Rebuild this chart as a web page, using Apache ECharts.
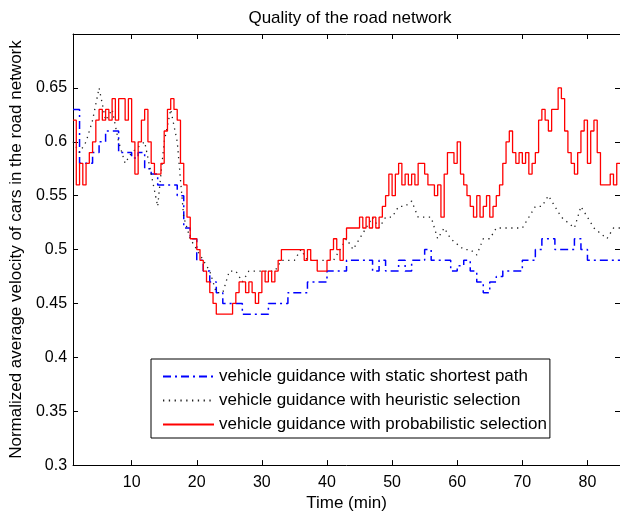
<!DOCTYPE html>
<html>
<head>
<meta charset="utf-8">
<script src="https://cdn.jsdelivr.net/npm/echarts@6/dist/echarts.min.js"></script>
<style>
  html, body { margin: 0; padding: 0; background: #fff; }
  #chart { width: 620px; height: 517px; }
</style>
</head>
<body>
<div id="chart"></div>
<script>
// tick labels
const xTicks = [10, 20, 30, 40, 50, 60, 70, 80];
const yTicks = [0.3, 0.35, 0.4, 0.45, 0.5, 0.55, 0.6, 0.65];

const seriesNames = [
  "vehicle guidance with static shortest path",
  "vehicle guidance with heuristic selection",
  "vehicle guidance with probabilistic selection",
];

// static shortest path, one value per minute (1..85)
const staticValues = [
  0.63, 0.58, 0.58, 0.59, 0.60, 0.61, 0.61, 0.59, 0.59, 0.585,
  0.59, 0.575, 0.57, 0.56, 0.56, 0.56, 0.55, 0.52, 0.51, 0.49,
  0.48, 0.47, 0.46, 0.45, 0.45, 0.45, 0.44, 0.44, 0.44, 0.44,
  0.45, 0.45, 0.45, 0.46, 0.46, 0.46, 0.47, 0.47, 0.47, 0.48,
  0.48, 0.48, 0.49, 0.49, 0.49, 0.49, 0.48, 0.49, 0.48, 0.48,
  0.49, 0.48, 0.49, 0.49, 0.50, 0.49, 0.49, 0.49, 0.48, 0.485,
  0.49, 0.48, 0.47, 0.46, 0.47, 0.475, 0.48, 0.48, 0.48, 0.49,
  0.49, 0.50, 0.51, 0.51, 0.50, 0.50, 0.50, 0.51, 0.50, 0.49,
  0.49, 0.49, 0.49, 0.49, 0.49,
];

// heuristic selection, one value per minute (1..85)
const heuristicValues = [
  0.60, 0.59, 0.60, 0.62, 0.65, 0.62, 0.63, 0.60, 0.58, 0.59,
  0.595, 0.60, 0.57, 0.54, 0.60, 0.63, 0.60, 0.53, 0.51, 0.50,
  0.49, 0.48, 0.46, 0.46, 0.48, 0.48, 0.47, 0.48, 0.48, 0.48,
  0.48, 0.48, 0.49, 0.49, 0.49, 0.50, 0.49, 0.49, 0.49, 0.49,
  0.49, 0.50, 0.51, 0.50, 0.51, 0.52, 0.53, 0.52, 0.53, 0.53,
  0.54, 0.54, 0.545, 0.53, 0.53, 0.53, 0.51, 0.52, 0.51, 0.505,
  0.50, 0.50, 0.495, 0.51, 0.51, 0.52, 0.52, 0.52, 0.52, 0.52,
  0.53, 0.54, 0.54, 0.55, 0.54, 0.53, 0.525, 0.52, 0.54, 0.53,
  0.52, 0.515, 0.51, 0.52, 0.52,
];

// probabilistic selection, one value per half minute (1..85)
const probValues = [
  0.62, 0.56, 0.58, 0.56, 0.58, 0.59, 0.60, 0.62, 0.63, 0.62,
  0.63, 0.62, 0.64, 0.62, 0.64, 0.64, 0.62, 0.64, 0.60, 0.57,
  0.60, 0.62, 0.63, 0.60, 0.58, 0.57, 0.57, 0.58, 0.61, 0.63,
  0.64, 0.63, 0.62, 0.58, 0.56, 0.53, 0.51, 0.51, 0.50, 0.49,
  0.48, 0.47, 0.46, 0.45, 0.44, 0.44, 0.44, 0.44, 0.44, 0.45,
  0.46, 0.47, 0.47, 0.46, 0.47, 0.46, 0.45, 0.46, 0.48, 0.47,
  0.48, 0.47, 0.48, 0.49, 0.50, 0.50, 0.50, 0.50, 0.50, 0.50,
  0.50, 0.49, 0.50, 0.49, 0.49, 0.48, 0.48, 0.48, 0.49, 0.50,
  0.51, 0.50, 0.49, 0.51, 0.52, 0.52, 0.52, 0.52, 0.53, 0.52,
  0.53, 0.52, 0.53, 0.52, 0.53, 0.54, 0.55, 0.57, 0.55, 0.57,
  0.58, 0.56, 0.57, 0.56, 0.57, 0.56, 0.58, 0.58, 0.57, 0.56,
  0.56, 0.55, 0.56, 0.53, 0.57, 0.59, 0.59, 0.58, 0.60, 0.57,
  0.56, 0.55, 0.54, 0.53, 0.55, 0.53, 0.54, 0.55, 0.53, 0.54,
  0.55, 0.56, 0.58, 0.60, 0.61, 0.59, 0.58, 0.59, 0.58, 0.59,
  0.57, 0.58, 0.59, 0.62, 0.63, 0.62, 0.61, 0.63, 0.63, 0.65,
  0.64, 0.61, 0.59, 0.58, 0.57, 0.59, 0.61, 0.62, 0.58, 0.61,
  0.62, 0.59, 0.56, 0.56, 0.56, 0.57, 0.56, 0.58, 0.58,
];

const startTime = 1;

function toPoints(values, step) {
  return values.map((v, i) => [startTime + i * step, v]);
}

const font = "'Liberation Sans', Arial, sans-serif";

const chart = echarts.init(document.getElementById("chart"));

const tickCommon = { inside: true, length: 5, lineStyle: { color: "#000" } };

const option = {
  animation: false,
  backgroundColor: "#fff",
  textStyle: { fontFamily: font },
  title: {
    text: "Quality of the road network",
    left: 345,
    top: 5,
    textAlign: "center",
    textStyle: { fontFamily: font, fontSize: 17, fontWeight: "normal", color: "#000" },
  },
  legend: {
    orient: "vertical",
    left: 151,
    top: 359,
    padding: [9, 3, 5, 11],
    itemGap: 7,
    itemWidth: 51,
    itemHeight: 14,
    backgroundColor: "#fff",
    borderColor: "#000",
    borderWidth: 1,
    borderRadius: 0,
    itemStyle: { opacity: 0 },
    textStyle: { fontFamily: font, fontSize: 17, color: "#000" },
    data: seriesNames,
  },
  grid: { left: 69, right: 0, top: 34, bottom: 48 },
  xAxis: [
    {
      type: "value",
      min: 1,
      max: 85,
      name: "Time (min)",
      nameLocation: "middle",
      nameGap: 27,
      nameTextStyle: { fontFamily: font, fontSize: 17, color: "#000" },
      axisLine: { lineStyle: { color: "#000" } },
      axisTick: Object.assign({ customValues: xTicks }, tickCommon),
      axisLabel: { customValues: xTicks, fontFamily: font, fontSize: 16, color: "#000", margin: 9 },
      splitLine: { show: false },
    },
    {
      type: "value",
      position: "top",
      min: 1,
      max: 85,
      axisLine: { show: true, lineStyle: { color: "#000" } },
      axisTick: Object.assign({ customValues: xTicks }, tickCommon),
      axisLabel: { show: false },
      splitLine: { show: false },
    },
  ],
  yAxis: [
    {
      type: "value",
      min: 0.3,
      max: 0.7,
      name: "Normalized average velocity of cars in the road network",
      nameLocation: "middle",
      nameGap: 44,
      nameTextStyle: { fontFamily: font, fontSize: 17, color: "#000" },
      axisLine: { show: true, lineStyle: { color: "#000" } },
      axisTick: Object.assign({ customValues: yTicks }, tickCommon),
      axisLabel: {
        customValues: yTicks,
        fontFamily: font,
        fontSize: 16,
        color: "#000",
        margin: 6,
        formatter: (v) => String(+v.toFixed(2)),
      },
      splitLine: { show: false },
    },
    {
      type: "value",
      position: "right",
      min: 0.3,
      max: 0.7,
      axisLine: { show: true, lineStyle: { color: "#000" } },
      axisTick: Object.assign({ customValues: yTicks }, tickCommon),
      axisLabel: { show: false },
      splitLine: { show: false },
    },
  ],
  series: [
    {
      name: seriesNames[0],
      type: "line",
      symbol: "none",
      step: "end",
      lineStyle: { color: "#0000ff", width: 1.5, type: [8, 4, 2, 4] },
      itemStyle: { color: "#0000ff" },
      data: toPoints(staticValues, 1),
      z: 2,
    },
    {
      name: seriesNames[1],
      type: "line",
      symbol: "none",
      lineStyle: { color: "#222", width: 1.3, type: [1.3, 4.5] },
      itemStyle: { color: "#222" },
      data: toPoints(heuristicValues, 1),
      z: 3,
    },
    {
      name: seriesNames[2],
      type: "line",
      symbol: "none",
      step: "end",
      lineStyle: { color: "#ff0000", width: 1.3 },
      itemStyle: { color: "#ff0000" },
      data: toPoints(probValues, 0.5),
      z: 4,
    },
  ],
};

chart.setOption(option);
</script>
</body>
</html>
